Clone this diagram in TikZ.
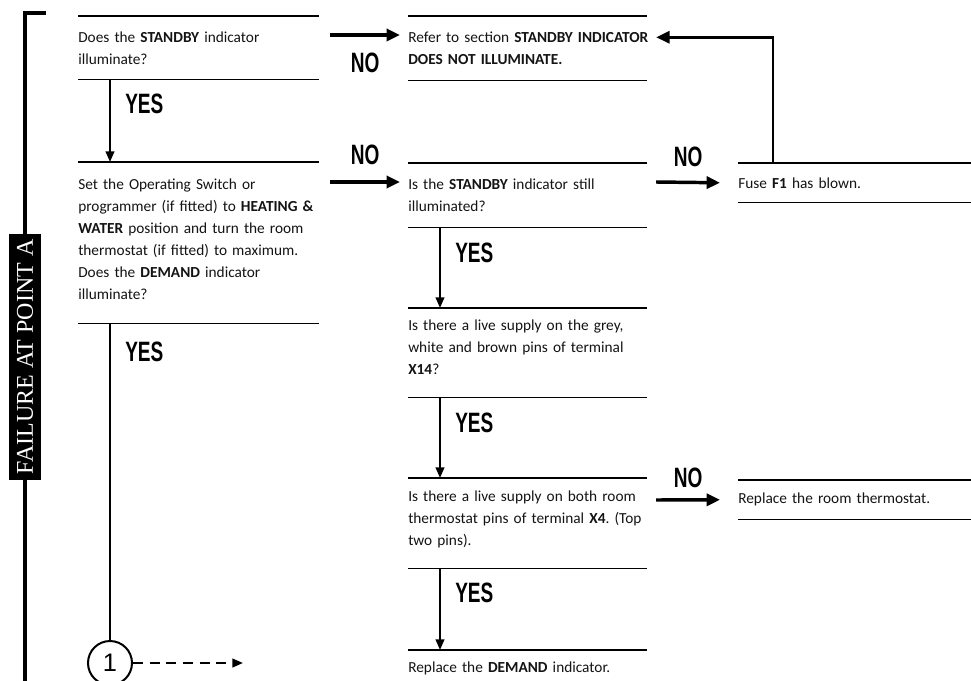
\documentclass[tikz,border=0pt]{standalone}
\usepackage{fontspec}
\setmainfont{Carlito}[WordSpace=0.8]
\newfontfamily\ynfont{Liberation Sans}
\newfontfamily\tagfont{Liberation Serif}
\usetikzlibrary{arrows.meta, positioning, calc}

\newcommand{\yn}[1]{\scalebox{0.68}[1]{\ynfont\bfseries\fontsize{21}{21}\selectfont #1}}
\newcommand{\lift}[1]{\par\vspace*{#1}}
\hyphenpenalty=10000
\exhyphenpenalty=10000
\frenchspacing

\begin{document}
\begin{tikzpicture}[
    x=0.75pt, y=-0.75pt,
    stepbox/.style={anchor=north west, inner sep=0pt, align=left, text=black!92, font=\fontsize{11.5}{16.5}\selectfont},
    rule/.style={line width=1.1pt},
    yesarr/.style={line width=1.5pt, -{Triangle[length=8pt, width=6.5pt]}},
    noarr/.style={line width=2.6pt, -{Triangle[length=10pt, width=9pt]}},
    dasharr/.style={line width=1.6pt, dash pattern=on 7.5pt off 5pt, -{Triangle[length=8pt, width=6.5pt]}},
    lbl/.style={inner sep=0pt},
]
\useasboundingbox[fill=white] (0,0) rectangle (971,681);
% ----- the bracket on the left with its label
\coordinate (brtop) at (46,13);
\coordinate (brbot) at (25,681);
\draw[line width=3pt] (brtop) -| (brbot);
\node[fill=black, text=white, rotate=90, inner xsep=4pt, minimum height=24pt, font=\tagfont\fontsize{18}{18}\selectfont] (fail) at (25,357) {FAILURE AT POINT A};
% ----- first column (text width is 20pt wider than its rules)
\node[stepbox, text width=200pt, minimum height=47.25pt] (q1) at (78,16) {Does the \textbf{STANDBY} indicator\\ illuminate?};
\node[stepbox, text width=200pt, minimum height=120.75pt] (q2) at (78,162) {Set the Operating Switch or\\ programmer (if fitted) to \textbf{HEATING \&}\\ \textbf{WATER} position and turn the room\\ thermostat (if fitted) to maximum.\\ Does the \textbf{DEMAND} indicator\\ illuminate?\lift{5pt}};
\node[circle, draw, line width=1.5pt, minimum size=33pt, inner sep=0pt, font=\ynfont\fontsize{19}{19}\selectfont] (c1) at (110,663) {1};
\coordinate (c1end) at (243,663);
% ----- second column
\node[stepbox, text width=198.5pt, minimum height=48pt] (r1) at (408,16) {Refer to section \textbf{STANDBY INDICATOR}\\ \textbf{DOES NOT ILLUMINATE.}};
\node[stepbox, text width=198.5pt, minimum height=48pt] (r2) at (408,163) {Is the \textbf{STANDBY} indicator still\\ illuminated?};
\node[stepbox, text width=198.5pt, minimum height=66.75pt] (r3) at (408,308) {Is there a live supply on the grey,\\ white and brown pins of terminal\\ \textbf{X14}?\lift{8pt}};
\node[stepbox, text width=198.5pt, minimum height=67.5pt] (r4) at (408,478) {Is there a live supply on both room\\ thermostat pins of terminal \textbf{X4}. (Top\\ two pins).\lift{6pt}};
\node[stepbox, text width=198.5pt, minimum height=27pt] (r5) at (408,650) {Replace the \textbf{DEMAND} indicator.};
% ----- third column
\node[stepbox, text width=194.75pt, minimum height=29.25pt] (f1) at (738,163) {Fuse \textbf{F1} has blown.};
\node[stepbox, text width=194.75pt, minimum height=29.25pt] (t1) at (738,480) {Replace the room thermostat.};
% ----- rules above and below each step
\foreach \n in {q1,q2,r1,r2,r3,r4,f1,t1} {
  \draw[rule] (\n.north west) -- ([xshift=-20pt]\n.north east);
  \draw[rule] (\n.south west) -- ([xshift=-20pt]\n.south east);
}
\draw[rule] (r5.north west) -- ([xshift=-20pt]r5.north east);
% ----- YES connectors
\draw[yesarr] ([xshift=24pt]q1.south west) -- ([xshift=24pt]q2.north west);
\draw[yesarr] ([xshift=24pt]r2.south west) -- ([xshift=24pt]r3.north west);
\draw[yesarr] ([xshift=24pt]r3.south west) -- ([xshift=24pt]r4.north west);
\draw[yesarr] ([xshift=24pt]r4.south west) -- ([xshift=24pt]r5.north west);
\draw[line width=1.5pt] ([xshift=24pt]q2.south west) -- (c1.north);
\draw[dasharr] (c1.east) -- (c1end);
\node[lbl, anchor=west] (y1) at ([xshift=35.25pt, yshift=-18pt]q1.south west) {\yn{YES}};
\node[lbl, anchor=west] (y2) at ([xshift=35.25pt, yshift=-21pt]q2.south west) {\yn{YES}};
\node[lbl, anchor=west] (y3) at ([xshift=35.25pt, yshift=-19pt]r2.south west) {\yn{YES}};
\node[lbl, anchor=west] (y4) at ([xshift=35.25pt, yshift=-19pt]r3.south west) {\yn{YES}};
\node[lbl, anchor=west] (y5) at ([xshift=35.25pt, yshift=-18pt]r4.south west) {\yn{YES}};
% ----- NO connectors (east anchors sit 20pt past the rules' ends)
\draw[noarr] ($(q1.north east)+(-15,19)$) -- ($(r1.north west)+(-8,19)$)
      node[lbl, midway, yshift=-21pt] (n1) {\yn{NO}};
\draw[noarr] ($(q2.north east)+(-15,20)$) -- ($(r2.north west)+(-8,19)$)
      node[lbl, midway, yshift=20pt] (n2) {\yn{NO}};
\draw[noarr] ($(r2.north east)+(-17,19)$) -- ($(f1.west)+(-18,0)$)
      node[lbl, midway, yshift=19pt] (n3) {\yn{NO}};
\draw[noarr] ($(r4.north east)+(-17,22)$) -- ($(t1.west)+(-18,0)$)
      node[lbl, midway, yshift=16.5pt] (n4) {\yn{NO}};
% ----- back from the fuse to the section reference
\draw[noarr, line width=2.2pt] ($(f1.north west)+(35,0)$) |- ($(r1.east)+(-17,-11)$);
\end{tikzpicture}
\end{document}
